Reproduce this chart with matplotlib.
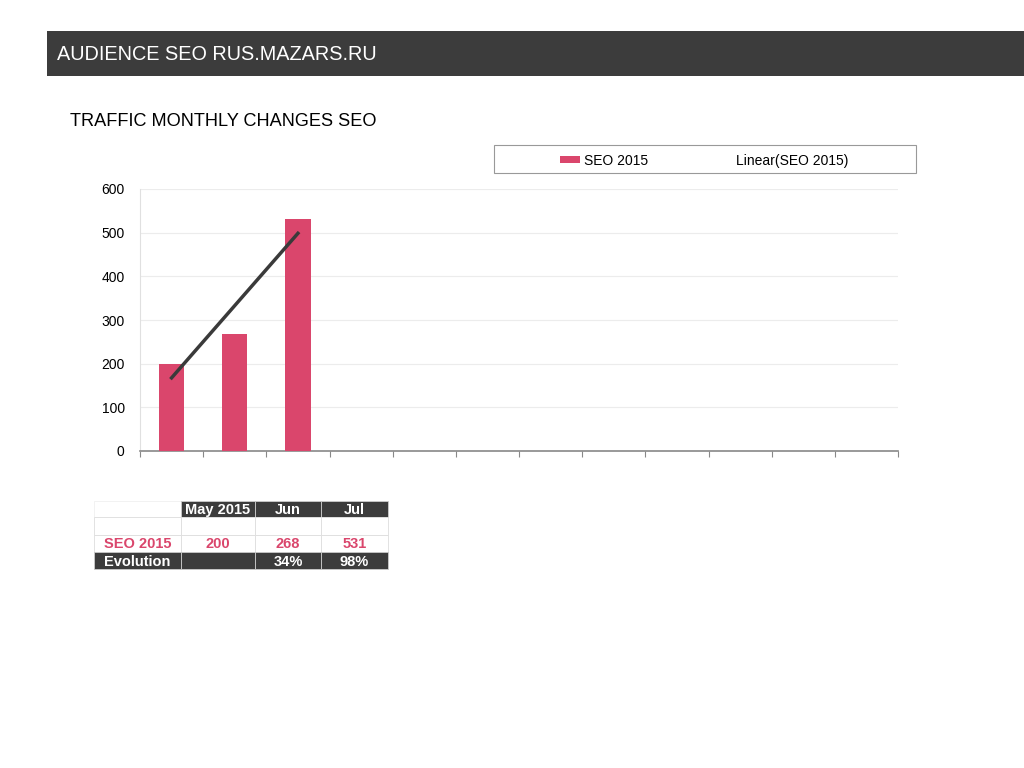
import matplotlib
matplotlib.use("Agg")
import matplotlib.pyplot as plt
from matplotlib.patches import Rectangle
import numpy as np

months = ["May 2015", "Jun", "Jul"]
seo_2015 = [200, 268, 531]
evolution = ["", "34%", "98%"]
n_slots = 12
yticks = [0, 100, 200, 300, 400, 500, 600]

PINK = "#DA466C"
DARK = "#3C3C3C"
W, H = 1024, 768

fig = plt.figure(figsize=(W / 100, H / 100), dpi=100)
fig.patch.set_facecolor("white")

def fx(px):
    return px / W

def fy(py):
    return 1 - py / H

# header bar
fig.patches.append(Rectangle((fx(47), fy(76)), fx(1024) - fx(47), fy(31) - fy(76),
                             transform=fig.transFigure, facecolor=DARK, edgecolor="none"))
fig.text(fx(57), fy(55), "AUDIENCE SEO RUS.MAZARS.RU", color="white", fontsize=14.3,
         va="center", ha="left", family="Liberation Sans")
fig.text(fx(70), fy(122), "TRAFFIC MONTHLY CHANGES SEO", color="black", fontsize=13.1,
         va="center", ha="left", family="Liberation Sans")

# legend box
fig.patches.append(Rectangle((fx(494), fy(173)), fx(916) - fx(494), fy(145) - fy(173),
                             transform=fig.transFigure, facecolor="white", edgecolor="#999999", lw=0.8))
fig.patches.append(Rectangle((fx(560), fy(163)), fx(20), fy(156) - fy(163),
                             transform=fig.transFigure, facecolor=PINK, edgecolor="none"))
fig.text(fx(584), fy(161), "SEO 2015", fontsize=10, va="center", ha="left", family="Liberation Sans")
fig.text(fx(736), fy(161), "Linear(SEO 2015)", fontsize=10, va="center", ha="left", family="Liberation Sans")

# chart axes
ax = fig.add_axes([fx(140), fy(451), fx(898) - fx(140), fy(189) - fy(451)])
x = np.arange(len(seo_2015))
ax.bar(x, seo_2015, width=0.4, color=PINK, zorder=3)
coef = np.polyfit(x, seo_2015, 1)
ax.plot([x[0], x[-1]], np.polyval(coef, [x[0], x[-1]]), color="#3a3a3a", lw=2.5, zorder=4)
ax.set_xlim(-0.5, n_slots - 0.5)
ax.set_ylim(0, 600)
ax.set_yticks(yticks)
ax.set_yticklabels([str(v) for v in yticks], fontsize=10, family="Liberation Sans")
ax.yaxis.grid(True, color="#ececec", lw=0.8, zorder=0)
ax.set_xticks(np.arange(n_slots + 1) - 0.5)
ax.set_xticklabels([])
ax.tick_params(axis="x", direction="out", length=4, color="#888888")
ax.tick_params(axis="y", length=0, pad=11)
for s in ["top", "right"]:
    ax.spines[s].set_visible(False)
ax.spines["left"].set_color("#e0e0e0")
ax.spines["bottom"].set_color("#888888")
ax.spines["bottom"].set_linewidth(1.2)

# table
col_x = [94, 181, 255, 321, 388]
row_y = [501, 517, 535, 552, 569]

def cell(c, r, fc, ec="#dddddd"):
    fig.patches.append(Rectangle((fx(col_x[c]), fy(row_y[r + 1])),
                                 fx(col_x[c + 1]) - fx(col_x[c]), fy(row_y[r]) - fy(row_y[r + 1]),
                                 transform=fig.transFigure, facecolor=fc, edgecolor=ec, lw=0.6))

def ctext(c, r, s, color, ha="center"):
    cx = (col_x[c] + col_x[c + 1]) / 2
    cy = (row_y[r] + row_y[r + 1]) / 2 + 1
    fig.text(fx(cx), fy(cy), s, color=color, fontsize=10.5, fontweight="bold",
             ha=ha, va="center", family="Liberation Sans")

for r in range(4):
    for c in range(4):
        if (r == 0 and c > 0) or r == 3:
            cell(c, r, DARK, "#cccccc")
        elif r == 0:
            cell(c, r, "white", "#f0f0f0")
        else:
            cell(c, r, "white")

for i, m in enumerate(months):
    ctext(i + 1, 0, m, "white")
ctext(0, 2, "SEO 2015", PINK)
for i, v in enumerate(seo_2015):
    ctext(i + 1, 2, str(v), PINK)
ctext(0, 3, "Evolution", "white")
for i, e in enumerate(evolution):
    if e:
        ctext(i + 1, 3, e, "white")

fig.savefig("out.png", dpi=100, facecolor="white")
